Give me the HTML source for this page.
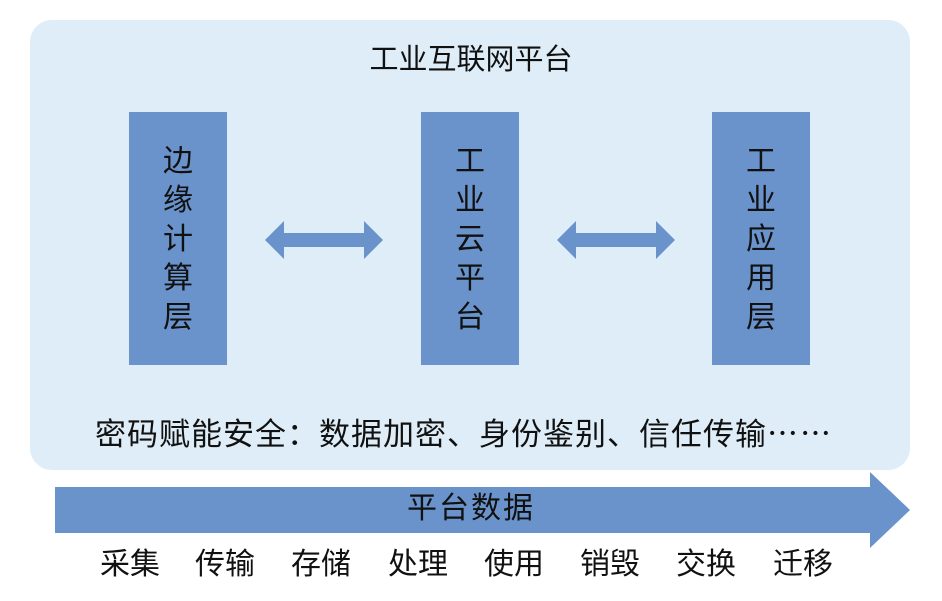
<!DOCTYPE html>
<html><head><meta charset="utf-8"><style>
body{margin:0;width:942px;height:601px;background:#fff;position:relative;overflow:hidden;font-family:"Liberation Sans","Noto Sans CJK SC",sans-serif;color:#111}
.t{position:absolute;white-space:nowrap;line-height:1}
.box{position:absolute;top:112px;width:98px;height:253px;background:#6a93cc}
.vt{position:absolute;top:142px;width:98px;text-align:center;font-size:30px;line-height:39px}
.lb{position:absolute;top:550px;font-size:30px;width:90px;text-align:center;line-height:1}
</style></head><body>
<div style="position:absolute;left:30px;top:20px;width:880px;height:450px;background:#deedf7;border-radius:22px"></div>
<div class="t" style="left:0;width:942px;text-align:center;top:46px;font-size:29px">工业互联网平台</div>
<div class="box" style="left:129px"></div>
<div class="box" style="left:421px"></div>
<div class="box" style="left:712px"></div>
<div class="vt" style="left:129px">边<br>缘<br>计<br>算<br>层</div>
<div class="vt" style="left:421px">工<br>业<br>云<br>平<br>台</div>
<div class="vt" style="left:712px">工<br>业<br>应<br>用<br>层</div>
<svg width="942" height="601" style="position:absolute;left:0;top:0">
<polygon fill="#6a93cc" points="265,240 284,221 284,233 364,233 364,221 383,240 364,259 364,247 284,247 284,259"/>
<polygon fill="#6a93cc" points="557,240 576,221 576,233 656,233 656,221 675,240 656,259 656,247 576,247 576,259"/>
<polygon fill="#6a93cc" points="55,487 870,487 870,472 910,510 870,548 870,533 55,533"/>
</svg>
<div class="t" style="left:95px;top:416px;font-size:31px;letter-spacing:1px;font-family:'Noto Sans CJK SC',sans-serif">密码赋能安全：数据加密、身份鉴别、信任传输<span style="font-size:31px;letter-spacing:2px">……</span></div>
<div class="t" style="left:0;width:942px;text-align:center;top:494px;font-size:30px;letter-spacing:2px">平台数据</div>
<div class="lb" style="left:85px">采集</div>
<div class="lb" style="left:180px">传输</div>
<div class="lb" style="left:276px">存储</div>
<div class="lb" style="left:373px">处理</div>
<div class="lb" style="left:469px">使用</div>
<div class="lb" style="left:565px">销毁</div>
<div class="lb" style="left:661px">交换</div>
<div class="lb" style="left:758px">迁移</div>
</body></html>
